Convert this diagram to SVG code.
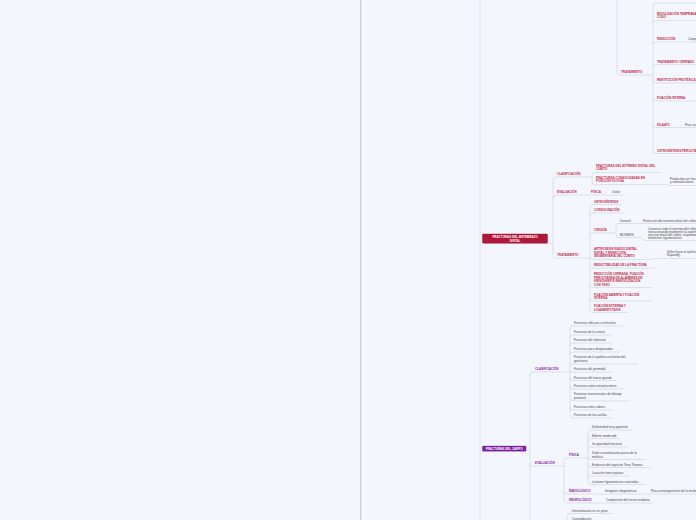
<svg xmlns="http://www.w3.org/2000/svg" width="696" height="520" viewBox="0 0 696 520">
<style>
.c{stroke:#d0d5de;stroke-width:0.7;fill:none}
.u{stroke:#d0d5de;stroke-width:0.7;fill:none}
.r{font-family:"Liberation Sans",Arial,sans-serif;font-size:3px;font-weight:bold;fill:#c62a4a}
.p{font-family:"Liberation Sans",Arial,sans-serif;font-size:3px;font-weight:bold;fill:#8e24aa}
.t{font-family:"Liberation Sans",Arial,sans-serif;font-size:3.1px;fill:#4a4a4a}
.w{font-family:"Liberation Sans",Arial,sans-serif;font-size:3px;font-weight:bold;fill:#ffffff}
</style>
<rect x="0" y="0" width="696" height="520" fill="#f3f6fd"/>
<line x1="360.7" y1="0" x2="360.7" y2="520" stroke="#c9ced6" stroke-width="1.3"/>
<line x1="480" y1="0" x2="480" y2="520" stroke="#dfe3ea" stroke-width="1"/>

<g id="connectors">
<path class="c" d="M617,0 V71 Q617,75 620,75"/>
<path class="c" d="M649,75 H653 M653,6 V150.5"/>
<path class="c" d="M653,6 Q653,3 656,3 M653,23.5 Q653,20.5 656,20.5 M653,45 Q653,42 656,42 M653,67.5 Q653,64.5 656,64.5 M653,80 Q653,83 656,83 M653,98 Q653,101 656,101 M653,124.5 Q653,127.5 656,127.5 M653,150.5 Q653,153.5 656,153.5"/>
<path class="c" d="M684,42 H685 M681,127.5 H684"/>
<path class="c" d="M547.5,243.3 H553 M553,180 V255"/>
<path class="c" d="M553,180 Q553,177 556,177 M553,198 Q553,195 556,195 M553,255 Q553,258 556,258"/>
<path class="c" d="M589,177 H592 M592,175.5 V181.5 M592,175.5 Q592,172.5 595,172.5 M592,181.5 Q592,184.5 595,184.5 M666,184.5 L668,185.5"/>
<path class="c" d="M587,195 H590 M606,195 H611"/>
<path class="c" d="M586,258 H590 M590,207.5 V309.5"/>
<path class="c" d="M590,207.5 Q590,204.5 593,204.5 M590,216 Q590,213 593,213 M590,236 Q590,233 593,233 M590,256.5 Q590,259.5 593,259.5 M590,265 Q590,268 593,268 M590,284.5 Q590,287.5 593,287.5 M590,298 Q590,301 593,301 M590,309.5 Q590,312.5 593,312.5"/>
<path class="c" d="M612,233 H616 M616,226.5 V234.5 M616,226.5 Q616,223.5 619,223.5 M616,234.5 Q616,237.5 619,237.5"/>
<path class="c" d="M635,223.5 H641 M640,237.5 Q643,237.5 643,239 Q643,240.5 646,240.5"/>
<path class="c" d="M641,259.5 Q653,259.5 653,259 Q653,258.5 665,258.5"/>
<path class="c" d="M526,451 H530 M530,375 V520"/>
<path class="c" d="M530,375 Q530,372 533,372 M530,463 Q530,466 533,466"/>
<path class="c" d="M567,372 H573 M570,329 V415"/>
<path class="c" d="M570,329 Q570,326 573,326 M570,338 Q570,335 573,335 M570,346 Q570,343 573,343 M570,355 Q570,352 573,352 M570,367 Q570,364 573,364 M570,377.5 Q570,380.5 573,380.5 M570,386 Q570,389 573,389 M570,398 Q570,401 573,401 M570,407 Q570,410 573,410 M570,415 Q570,418 573,418"/>
<path class="c" d="M560,466 H564 M564,461 V500"/>
<path class="c" d="M564,461 Q564,458 567,458 M564,491 Q564,494 567,494 M564,500 Q564,503 567,503"/>
<path class="c" d="M584,458 H588 M588,433 V481.5"/>
<path class="c" d="M588,433 Q588,430 591,430 M588,441.5 Q588,438.5 591,438.5 M588,450 Q588,447 591,447 M588,456.5 Q588,459.5 591,459.5 M588,464.5 Q588,467.5 591,467.5 M588,473 Q588,476 591,476 M588,481.5 Q588,484.5 591,484.5"/>
<path class="c" d="M598,494 H602 M644,494 H648 M599,503 H603"/>
<path class="c" d="M567,525 V516.5 Q567,513.5 570,513.5 M567,520 Q567,521.5 570,521.5"/>
</g>

<g id="n-trat-top"><text class="r" x="621" y="73.3">TRATAMIENTO</text><path class="u" d="M620,75 H649"/></g>
<g id="n-top0"><path class="u" d="M656,3 H696"/></g>
<g id="n-movil"><text class="r" x="657" y="14.5">MOVILIZACIÓN TEMPRANA DEL</text><text class="r" x="657" y="18">CODO</text><path class="u" d="M656,20.5 H696"/></g>
<g id="n-reduc"><text class="r" x="657" y="40">REDUCCIÓN</text><path class="u" d="M656,42 H684"/></g>
<g id="n-reduc-c"><text class="t" x="688" y="40">Comp</text><path class="u" d="M685,42 H696"/></g>
<g id="n-tratcerr"><text class="r" x="657" y="62.5">TRATAMIENTO CERRADO</text><path class="u" d="M656,64.5 H696"/></g>
<g id="n-restit"><text class="r" x="657" y="81">RESTITUCIÓN PROTÉSICA</text><path class="u" d="M656,83 H696"/></g>
<g id="n-fijint"><text class="r" x="657" y="99">FIJACIÓN INTERNA</text><path class="u" d="M656,101 H696"/></g>
<g id="n-kil"><text class="r" x="657" y="125.5">KILAATC</text><path class="u" d="M656,127.5 H681"/></g>
<g id="n-kil-c"><text class="t" x="685" y="125.5">Para su</text><path class="u" d="M684,127.5 H696"/></g>
<g id="n-osteoperc"><text class="r" x="657" y="151.5">OSTEOSÍNTESIS PERCUTÁNEA</text><path class="u" d="M656,153.5 H696"/></g>

<g id="n-antebrazo"><rect x="482.5" y="234" width="65" height="9.3" rx="0.8" fill="#b0183a" stroke="#8e0f2c" stroke-width="0.4"/><text class="w" x="515" y="238.2" text-anchor="middle">FRACTURAS DEL ANTEBRAZO</text><text class="w" x="515" y="241.9" text-anchor="middle">DISTAL</text></g>
<g id="n-a-clas"><text class="r" x="557" y="175">CLASIFICACIÓN</text><path class="u" d="M556,177 H589"/></g>
<g id="n-a-eval"><text class="r" x="557" y="193">EVALUACIÓN</text><path class="u" d="M556,195 H587"/></g>
<g id="n-a-trat"><text class="r" x="557" y="256">TRATAMIENTO</text><path class="u" d="M556,258 H586"/></g>
<g id="n-a-c1"><text class="r" x="596" y="166.8">FRACTURAS DEL EXTREMO DISTAL DEL</text><text class="r" x="596" y="170.3">CÚBITO</text><path class="u" d="M595,172.5 H660"/></g>
<g id="n-a-c2"><text class="r" x="596" y="178.8">FRACTURAS CONSOLIDADAS EN</text><text class="r" x="596" y="182.3">POSICIÓN VICIOSA</text><path class="u" d="M595,184.5 H666"/></g>
<g id="n-a-c2a"><text class="t" x="670" y="179.8">Producidas en fracturas</text><text class="t" x="670" y="183.3">y extraarticulares</text><path class="u" d="M668,185.5 H696"/></g>
<g id="n-a-fis"><text class="r" x="591" y="193">FÍSICA</text><path class="u" d="M590,195 H606"/></g>
<g id="n-a-dolor"><text class="t" x="612.5" y="193">Dolor</text><path class="u" d="M611,195 H623"/></g>
<g id="n-a-osteo"><text class="r" x="594" y="202.5">OSTEOSÍNTESIS</text><path class="u" d="M593,204.5 H622"/></g>
<g id="n-a-consol"><text class="r" x="594" y="211">CONSOLIDACIÓN</text><path class="u" d="M593,213 H625"/></g>
<g id="n-a-cir"><text class="r" x="594" y="231">CIRUGÍA</text><path class="u" d="M593,233 H612"/></g>
<g id="n-a-darrach"><text class="t" x="620" y="221.5">Darrach</text><path class="u" d="M619,223.5 H635"/></g>
<g id="n-a-darrach-d"><text class="t" x="643" y="221.5">Resección del extremo distal del cúbito</text><path class="u" d="M641,223.5 H696"/></g>
<g id="n-a-bowers"><text class="t" x="620" y="235.5">BOWERS</text><path class="u" d="M619,237.5 H640"/></g>
<g id="n-a-bowers-d"><text class="t" x="648" y="229.5">Conserva todo el extremo del cúbito,</text><text class="t" x="648" y="232.5">reseccionando totalmente la superficie</text><text class="t" x="648" y="235.5">articular distal del cúbito, respetando los</text><text class="t" x="648" y="238.5">elementos ligamentarios.</text><path class="u" d="M646,240.5 H696"/></g>
<g id="n-a-artro"><text class="r" x="594" y="250.3">ARTRODESIS RADIOCUBITAL</text><text class="r" x="594" y="253.7">DISTAL Y RESECCIÓN</text><text class="r" x="594" y="257.2">SEGMENTARIA DEL CÚBITO</text><path class="u" d="M593,259.5 H641"/></g>
<g id="n-a-artro-d"><text class="t" x="667" y="252.5">Útiles llevar el epífisis</text><text class="t" x="667" y="256">Kapandji)</text><path class="u" d="M665,258.5 H696"/></g>
<g id="n-a-reduct"><text class="r" x="594" y="266">REDUCTIBILIDAD DE LA FRACTURA</text><path class="u" d="M593,268 H655"/></g>
<g id="n-a-redcerr"><text class="r" x="594" y="275">REDUCCIÓN CERRADA, FIJACIÓN</text><text class="r" x="594" y="278.5">PERCUTÁNEA DE ALAMBRES DE</text><text class="r" x="594" y="282">KIRSCHNER E INMOVILIZACIÓN</text><text class="r" x="594" y="285.5">CON YESO</text><path class="u" d="M593,287.5 H652"/></g>
<g id="n-a-fijab"><text class="r" x="594" y="295.5">FIJACIÓN ABIERTA Y FIJACIÓN</text><text class="r" x="594" y="299">INTERNA</text><path class="u" d="M593,301 H651"/></g>
<g id="n-a-fijext"><text class="r" x="594" y="307">FIJACIÓN EXTERNA Y</text><text class="r" x="594" y="310.5">LIGAMENTOTAXIS</text><path class="u" d="M593,312.5 H628"/></g>

<g id="n-carpo"><rect x="482.5" y="446" width="43.5" height="5.2" rx="0.5" fill="#7b1fa2" stroke="#63168a" stroke-width="0.3"/><text class="w" x="504.2" y="449.7" text-anchor="middle">FRACTURAS DEL CARPO</text></g>
<g id="n-c-clas"><text class="p" x="535" y="370">CLASIFICACIÓN</text><path class="u" d="M533,372 H567"/></g>
<g id="n-c-eval"><text class="p" x="535" y="464">EVALUACIÓN</text><path class="u" d="M533,466 H560"/></g>
<g id="n-c-c1"><text class="t" x="574" y="324">Fracturas oblicuas o verticales</text><path class="u" d="M573,326 H623"/></g>
<g id="n-c-c2"><text class="t" x="574" y="333">Fracturas de la cintura</text><path class="u" d="M573,335 H612"/></g>
<g id="n-c-c3"><text class="t" x="574" y="341">Fracturas del tubérculo</text><path class="u" d="M573,343 H612"/></g>
<g id="n-c-c4"><text class="t" x="574" y="350">Fracturas  poco desplazadas</text><path class="u" d="M573,352 H620"/></g>
<g id="n-c-c5"><text class="t" x="574" y="358">Fracturas de la apófisis unciforme  del</text><text class="t" x="574" y="362">ganchoso</text><path class="u" d="M573,364 H638"/></g>
<g id="n-c-c6"><text class="t" x="574" y="370">Fracturas del piramidal</text><path class="u" d="M573,372 H612"/></g>
<g id="n-c-c7"><text class="t" x="574" y="378.5">Fracturas del hueso grande</text><path class="u" d="M573,380.5 H617"/></g>
<g id="n-c-c8"><text class="t" x="574" y="387">Fracturas osteo intraarticulares</text><path class="u" d="M573,389 H625"/></g>
<g id="n-c-c9"><text class="t" x="574" y="395">Fracturas transversales de falange</text><text class="t" x="574" y="399">proximal</text><path class="u" d="M573,401 H630"/></g>
<g id="n-c-c10"><text class="t" x="574" y="408">Fracturas entre sabers</text><path class="u" d="M573,410 H612"/></g>
<g id="n-c-c11"><text class="t" x="574" y="416">Fracturas de los carillas</text><path class="u" d="M573,418 H613"/></g>
<g id="n-c-fis"><text class="p" x="569" y="456">FÍSICA</text><path class="u" d="M567,458 H584"/></g>
<g id="n-c-f1"><text class="t" x="592" y="428">Deformidad muy aparente</text><path class="u" d="M591,430 H632"/></g>
<g id="n-c-f2"><text class="t" x="592" y="436.5">Edema moderado</text><path class="u" d="M591,438.5 H620"/></g>
<g id="n-c-f3"><text class="t" x="592" y="445">Incapacidad funcional</text><path class="u" d="M591,447 H628"/></g>
<g id="n-c-f4"><text class="t" x="592" y="454">Dolor a movilización pasiva de la</text><text class="t" x="592" y="457.5">muñeca</text><path class="u" d="M591,459.5 H646"/></g>
<g id="n-c-f5"><text class="t" x="592" y="465.5">Evidencia del signo de Terry Thomas</text><path class="u" d="M591,467.5 H650"/></g>
<g id="n-c-f6"><text class="t" x="592" y="474">Luxación intercarpiana</text><path class="u" d="M591,476 H630"/></g>
<g id="n-c-f7"><text class="t" x="592" y="482.5">Lesiones ligamentarias asociadas</text><path class="u" d="M591,484.5 H646"/></g>
<g id="n-c-rad"><text class="p" x="569" y="492">RADIOLÓGICO</text><path class="u" d="M567,494 H598"/></g>
<g id="n-c-rad1"><text class="t" x="605" y="492">Imágenes diagnósticas</text><path class="u" d="M602,494 H644"/></g>
<g id="n-c-rad2"><text class="t" x="651" y="492">Placa anteroposterior de la muñeca</text><path class="u" d="M648,494 H696"/></g>
<g id="n-c-neu"><text class="p" x="569" y="501">NEUROLÓGICO</text><path class="u" d="M567,503 H599"/></g>
<g id="n-c-neu1"><text class="t" x="606" y="501">Compresión del nervio mediano</text><path class="u" d="M603,503 H653"/></g>
<g id="n-c-inm"><text class="t" x="572" y="511.5">Inmovilización en un yeso</text><path class="u" d="M570,513.5 H613"/></g>
<g id="n-c-cons"><text class="t" x="572" y="519.5">Consolidación</text><path class="u" d="M570,521.5 H600"/></g>
</svg>
